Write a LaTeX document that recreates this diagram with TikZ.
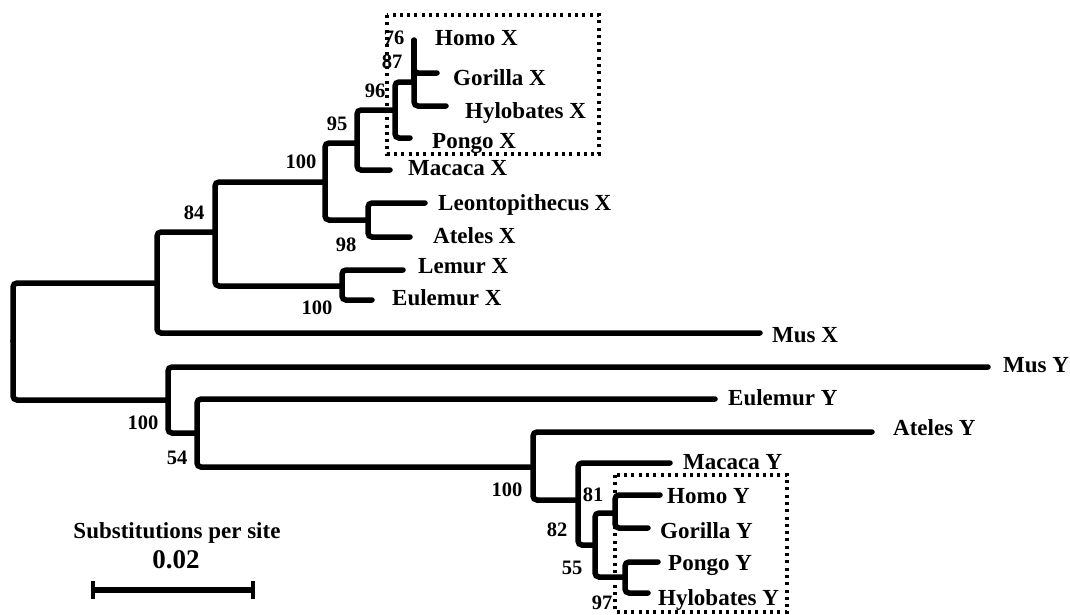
\documentclass[tikz,border=0pt]{standalone}
\usepackage{fontspec}
\setmainfont{Liberation Serif}
\usetikzlibrary{positioning}

\begin{document}
\begin{tikzpicture}[x=1pt, y=-1pt,
    branch/.style={line width=5.5pt, rounded corners=4pt, line cap=round},
    taxon/.style={anchor=base west, inner sep=0pt, font=\fontsize{23}{25}\selectfont\bfseries},
    boot/.style={inner sep=0pt, font=\fontsize{20.5}{22}\selectfont\bfseries},
    clade/.style={line width=3.2pt, dash pattern=on 3pt off 4.3pt},
    scalebar/.style={line width=5.5pt},
    scaletick/.style={line width=4.5pt}
  ]
    \useasboundingbox (0,0) rectangle (1070,614);
    % Root
    \coordinate (root) at (13,341);
    % X chromosome clade
    \coordinate (Xc) at (157,283);
    \coordinate (n84) at (215,232);
    \coordinate (n100a) at (325,182);
    \coordinate (n95) at (357,143);
    \coordinate (n96) at (395,110);
    \coordinate (n87) at (414,82);
    \coordinate (n76) at (414,57);
    \coordinate (homoX) at (414,40);
    \coordinate (gorillaX) at (437,73);
    \coordinate (hylobX) at (446,106);
    \coordinate (pongoX) at (410,138);
    \coordinate (macacaX) at (390,170);
    \coordinate (n98) at (368,220);
    \coordinate (leontoX) at (425,203);
    \coordinate (atelesX) at (410,237);
    \coordinate (nLem) at (342,286);
    \coordinate (lemurX) at (403,270);
    \coordinate (eulemX) at (372,300);
    \coordinate (musX) at (760,333);
    % Y chromosome clade
    \coordinate (Yc) at (168,400);
    \coordinate (musY) at (988,367);
    \coordinate (n54) at (197,433);
    \coordinate (eulemY) at (715,399);
    \coordinate (n100b) at (533,467);
    \coordinate (atelesY) at (872,432);
    \coordinate (n82) at (578,500);
    \coordinate (macacaY) at (670,463);
    \coordinate (n55) at (595,545);
    \coordinate (n81) at (615,513);
    \coordinate (homoY) at (660,495);
    \coordinate (gorillaY) at (648,528);
    \coordinate (n97) at (625,577);
    \coordinate (pongoY) at (658,562);
    \coordinate (hylobY) at (648,593);
    % Branches
    \draw[branch] (root) |- (Xc);
    \draw[branch] (root) |- (Yc);
    \draw[branch] (Xc) |- (n84);
    \draw[branch] (Xc) |- (musX);
    \draw[branch] (n84) |- (n100a);
    \draw[branch] (n84) |- (nLem);
    \draw[branch] (n100a) |- (n95);
    \draw[branch] (n100a) |- (n98);
    \draw[branch] (n95) |- (n96);
    \draw[branch] (n95) |- (macacaX);
    \draw[branch] (n96) |- (n87);
    \draw[branch] (n96) |- (pongoX);
    \draw[branch] (n87) -- (n76);
    \draw[branch] (n87) |- (hylobX);
    \draw[branch] (n76) -- (homoX);
    \draw[branch] (n76) |- (gorillaX);
    \draw[branch] (n98) |- (leontoX);
    \draw[branch] (n98) |- (atelesX);
    \draw[branch] (nLem) |- (lemurX);
    \draw[branch] (nLem) |- (eulemX);
    \draw[branch] (Yc) |- (musY);
    \draw[branch] (Yc) |- (n54);
    \draw[branch] (n54) |- (eulemY);
    \draw[branch] (n54) |- (n100b);
    \draw[branch] (n100b) |- (atelesY);
    \draw[branch] (n100b) |- (n82);
    \draw[branch] (n82) |- (macacaY);
    \draw[branch] (n82) |- (n55);
    \draw[branch] (n55) |- (n81);
    \draw[branch] (n55) |- (n97);
    \draw[branch] (n81) |- (homoY);
    \draw[branch] (n81) |- (gorillaY);
    \draw[branch] (n97) |- (pongoY);
    \draw[branch] (n97) |- (hylobY);
    % Taxon labels
    \node[taxon] (tHomoX) at (435,45) {Homo X};
    \node[taxon] (tGorillaX) at (453,85) {Gorilla X};
    \node[taxon] (tHylobX) at (465,118) {Hylobates X};
    \node[taxon] (tPongoX) at (432,148) {Pongo X};
    \node[taxon] (tMacacaX) at (408,175) {Macaca X};
    \node[taxon] (tLeontoX) at (438,210) {Leontopithecus X};
    \node[taxon] (tAtelesX) at (433,243) {Ateles X};
    \node[taxon] (tLemurX) at (418,273) {Lemur X};
    \node[taxon] (tEulemX) at (392,305) {Eulemur X};
    \node[taxon] (tMusX) at (772,342) {Mus X};
    \node[taxon] (tMusY) at (1003,372) {Mus Y};
    \node[taxon] (tEulemY) at (728,405) {Eulemur Y};
    \node[taxon] (tAtelesY) at (893,435) {Ateles Y};
    \node[taxon] (tMacacaY) at (683,469) {Macaca Y};
    \node[taxon] (tHomoY) at (667,503) {Homo Y};
    \node[taxon] (tGorillaY) at (660,538) {Gorilla Y};
    \node[taxon] (tPongoY) at (668,570) {Pongo Y};
    \node[taxon] (tHylobY) at (658,605) {Hylobates Y};
    % Bootstrap values
    \node[boot] (b76) at (394,38) {76};
    \node[boot] (b87) at (392,62) {87};
    \node[boot] (b96) at (375,91) {96};
    \node[boot] (b95) at (337,124) {95};
    \node[boot] (b100a) at (301,162) {100};
    \node[boot] (b84) at (194,213) {84};
    \node[boot] (b98) at (346,245) {98};
    \node[boot] (b100l) at (317,308) {100};
    \node[boot] (b100y) at (143,423) {100};
    \node[boot] (b54) at (177,458) {54};
    \node[boot] (b100b) at (507,490) {100};
    \node[boot] (b81) at (593,495) {81};
    \node[boot] (b82) at (557,530) {82};
    \node[boot] (b55) at (572,568) {55};
    \node[boot] (b97) at (602,603) {97};
    % Dotted boxes round the hominoid clades
    \draw[clade] (387,15) rectangle (599,154);
    \draw[clade] (615,475) rectangle (787,612);
    % Scale bar
    \node[boot, anchor=base, font=\fontsize{23}{25}\selectfont\bfseries] (scaletitle) at (177,538) {Substitutions per site};
    \node[boot, font=\fontsize{27}{29}\selectfont\bfseries] (scaleval) at (176,560) {0.02};
    \coordinate (sL) at (93,590);
    \coordinate (sR) at (253,590);
    \draw[scalebar] (sL) -- (sR);
    \draw[scaletick] ([yshift=-9pt]sL) -- ([yshift=9pt]sL);
    \draw[scaletick] ([yshift=-9pt]sR) -- ([yshift=9pt]sR);
  \end{tikzpicture}
\end{document}
